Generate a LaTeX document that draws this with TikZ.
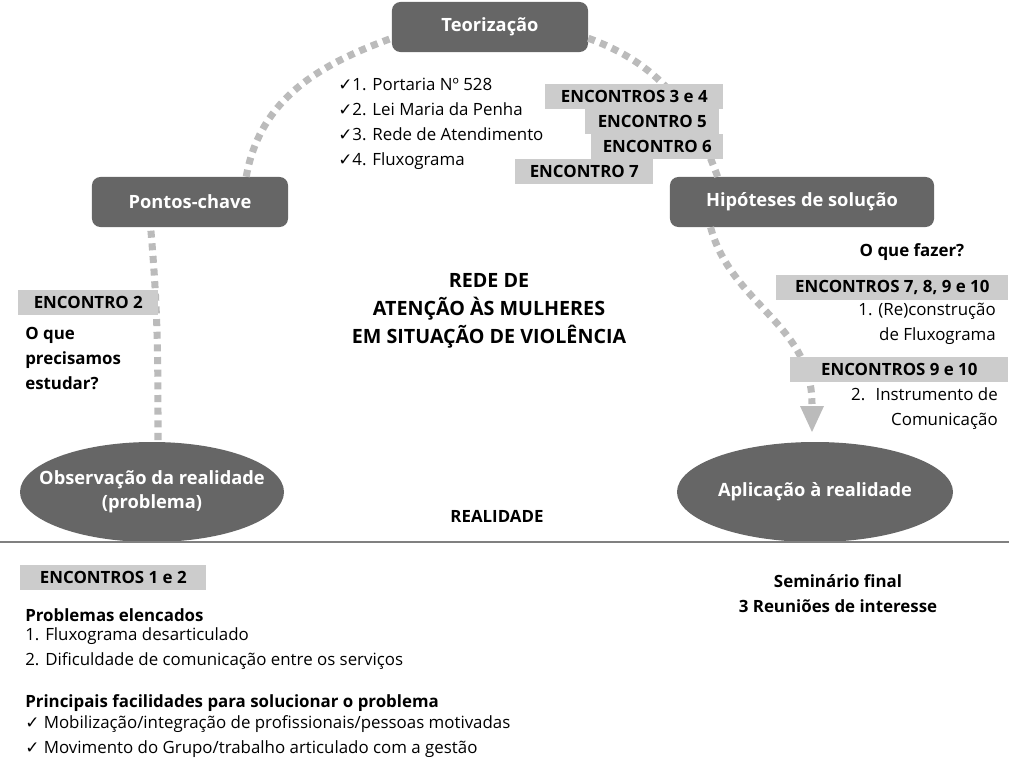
\documentclass[tikz,border=0pt]{standalone}
\usepackage{fontspec}
\setmainfont{Open Sans}
\newfontfamily\symfont{DejaVu Sans}
\usetikzlibrary{arrows.meta}
\definecolor{boxdark}{HTML}{666666}
\definecolor{boxlight}{HTML}{CCCCCC}
\definecolor{dotgray}{HTML}{BBBBBB}
\tikzset{stage/.style={rounded corners=6pt,fill=boxdark,text=white,font=\fontsize{13}{15}\selectfont\bfseries,minimum height=1.25cm,inner sep=2pt}}
\tikzset{pole/.style={text=white,font=\fontsize{13}{17}\selectfont\bfseries,align=center,inner sep=0pt}}
\tikzset{tag/.style={fill=boxlight,font=\fontsize{12}{14}\selectfont\bfseries,inner sep=0pt,minimum height=0.62cm,anchor=north west}}
\tikzset{txt/.style={font=\fontsize{12}{17.8}\selectfont,inner sep=0pt}}
\tikzset{btxt/.style={txt,font=\fontsize{12}{17.8}\selectfont\bfseries}}
\tikzset{path/.style={dotgray,line width=5pt,dash pattern=on 5pt off 4pt}}
\newcommand{\tick}{{\symfont\char"2713}}
\begin{document}
\begin{tikzpicture}[x=0.025cm,y=-0.025cm]
  \useasboundingbox (0,0) rectangle (1009,763);
  \node[stage,minimum width=4.9cm] (teo) at (490,27) {Teorização};
  \node[stage,minimum width=4.9cm] (pon) at (190,202) {Pontos-chave};
  \node[stage,minimum width=6.6cm] (hip) at (802,202) {Hipóteses de solução};
  \fill[boxdark] (152,492) ellipse (132 and 50);
  \fill[boxdark] (815,492) ellipse (138 and 50);
  \node[pole] (obs) at (152,492) {Observação da realidade\\(problema)};
  \node[pole] (apl) at (815,492) {Aplicação à realidade};
  \coordinate (obstop) at (158,440);
  \coordinate (tip) at (812,432);
  % dotted arcs
  \draw[path] ([xshift=40pt]pon.north) to[out=80,in=200] ([yshift=-8pt]teo.west);
  \draw[path] ([yshift=-8pt]teo.east) to[out=-20,in=110] ([xshift=-60pt]hip.north);
  \draw[path] (obstop) to[out=90,in=-85] ([xshift=-28pt]pon.south);
  \draw[path] ([xshift=-65pt]hip.south) to[out=-75,in=90] (812,404);
  \fill[dotgray] (800,406) -- (824,406) -- (tip) -- cycle;
  \draw[gray,line width=1pt] (0,542) -- (1009,542);
  % tags
  \node[tag,minimum width=4.45cm] (e34) at (545,84) {ENCONTROS 3 e 4};
  \node[tag,minimum width=3.35cm] (e5) at (585,109) {ENCONTRO 5};
  \node[tag,minimum width=3.3cm] (e6) at (591,134) {ENCONTRO 6};
  \node[tag,minimum width=3.45cm] (e7) at (515,159) {ENCONTRO 7};
  \node[tag,minimum width=3.5cm] (e2) at (18,290) {ENCONTRO 2};
  \node[tag,minimum width=5.8cm] (e710) at (776,275) {ENCONTROS 7, 8, 9 e 10};
  \node[tag,minimum width=5.45cm] (e910) at (790,357) {ENCONTROS 9 e 10};
  \node[tag,minimum width=4.65cm] (e12) at (20,565) {ENCONTROS 1 e 2};
  % texts
  \node[txt,anchor=north west,align=left] (lista) at (338,78) {\tick1. Portaria Nº 528\\\tick2. Lei Maria da Penha\\\tick3. Rede de Atendimento\\\tick4. Fluxograma};
  \node[btxt,align=center,font=\fontsize{14}{20}\selectfont\bfseries] (rede) at (489,311) {REDE DE\\ATENÇÃO ÀS MULHERES\\EM SITUAÇÃO DE VIOLÊNCIA};
  \node[btxt,anchor=north west,align=left] (estudar) at (25,327) {O que\\precisamos\\estudar?};
  \node[btxt] (fazer) at (912,252) {O que fazer?};
  \node[txt,anchor=north east,align=right] (fluxo) at (996,303) {1. (Re)construção\\de Fluxograma};
  \node[txt,anchor=north east,align=right] (instr) at (998,387) {2.~ Instrumento de\\Comunicação};
  \node[btxt] (real) at (497,516) {REALIDADE};
  \node[btxt,align=center] (semin) at (838,594) {Seminário final\\3 Reuniões de interesse};
  \node[btxt,anchor=west] (prob) at (25,615) {Problemas elencados};
  \node[txt,anchor=north west,align=left] (plist) at (25,627) {1. Fluxograma desarticulado\\2. Dificuldade de comunicação entre os serviços};
  \node[btxt,anchor=west] (facil) at (25,703) {Principais facilidades para solucionar o problema};
  \node[txt,anchor=north west,align=left] (flist) at (25,715) {\tick\ Mobilização/integração de profissionais/pessoas motivadas\\\tick\ Movimento do Grupo/trabalho articulado com a gestão};
\end{tikzpicture}
\end{document}
